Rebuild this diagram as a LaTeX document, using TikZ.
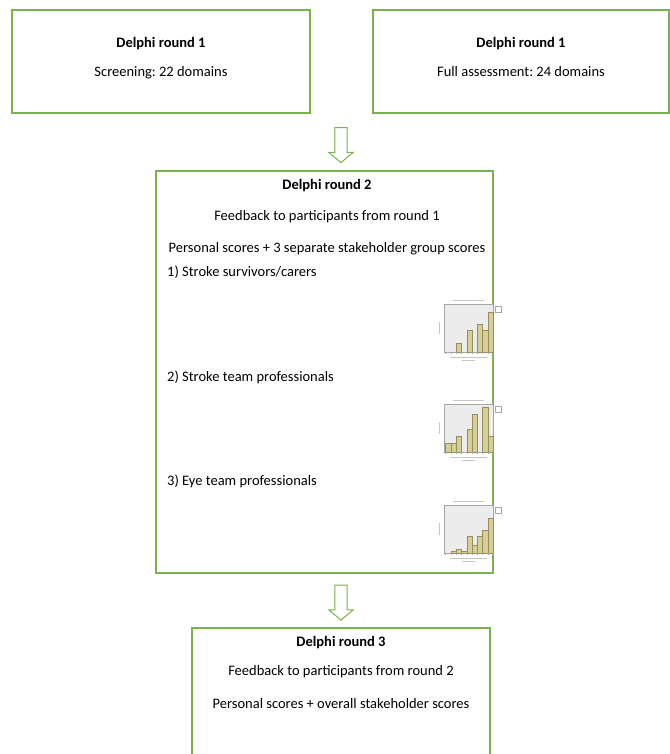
\documentclass[tikz,border=0pt]{standalone}
\usepackage{fontspec}
\setmainfont{Carlito}
\frenchspacing
\usepackage{tikz}
\usetikzlibrary{positioning,shapes.arrows}
\usepackage{xcolor}
\definecolor{boxgreen}{RGB}{122,178,80}
\definecolor{barkhaki}{RGB}{214,208,152}
\definecolor{baredge}{RGB}{150,142,92}
\definecolor{plotgray}{RGB}{236,236,236}
\tikzset{
  roundbox/.style={rectangle, draw=boxgreen, line width=1.3pt, fill=white, inner sep=0pt},
  downarrow/.style={single arrow, draw=boxgreen, line width=1pt, fill=white, rotate=-90,
                    minimum height=35pt, inner sep=5.7pt, single arrow head extend=6pt,
                    single arrow tip angle=100},
  textline/.style={inner sep=0pt, text height=10.5pt, text depth=3.5pt, font=\fontsize{14.5}{17}\selectfont},
  titleline/.style={textline, font=\fontsize{14.5}{17}\selectfont\bfseries},
  chartline/.style={gray!70, line width=0.4pt},
  chartbar/.style={fill=barkhaki, draw=baredge, line width=0.4pt},
  charttext/.style={gray!45, line width=0.6pt},
}
% small bar chart: #1 = top of plot area, #2 = bin/height pairs
\newcommand{\minichart}[2]{%
  \fill[plotgray] (444,#1) rectangle (493,#1+48);
  \draw[chartline] (444,#1) rectangle (493,#1+48);
  \foreach \b/\h in {#2}
    \draw[chartbar] (445.5+\b*5.3,#1+48) rectangle ++(5.3,-\h*46);
  \foreach \b in {0,...,9}
    \draw[chartline] (445.5+\b*5.3,#1+48) -- ++(0,1.5);
  \draw[charttext] (453,#1-3.5) -- (484,#1-3.5);
  \draw[charttext] (450,#1+53) -- (487,#1+53);
  \draw[charttext] (462,#1+56) -- (475,#1+56);
  \draw[charttext] (439,#1+18) -- (439,#1+30);
  \draw[chartline] (495,#1+2) rectangle (501,#1+8);
}

\begin{document}
\begin{tikzpicture}[x=1pt, y=-1pt, node distance=15pt]
\useasboundingbox (0,0) rectangle (669,754);

% round 1
\node[roundbox, minimum width=298pt, minimum height=103pt] (screen) at (161,61.5) {};
\node[titleline] (screentitle) at (161,44) {Delphi round 1};
\node[textline, below=15pt of screentitle] (screentext) {Screening: 22 domains};

\node[roundbox, minimum width=296pt, minimum height=103pt] (full) at (521,61.5) {};
\node[titleline] (fulltitle) at (521,44) {Delphi round 1};
\node[textline, below=15pt of fulltitle] (fulltext) {Full assessment: 24 domains};

\node[downarrow] (arrowone) at (341,142.5) {};

% round 2
\node[roundbox, minimum width=337pt, minimum height=402pt] (second) at (324.5,372) {};
\node[titleline] (secondtitle) at (327,186) {Delphi round 2};
\node[textline, below=17pt of secondtitle] (feedbackone) {Feedback to participants from round 1};
\node[textline, below=17pt of feedbackone] (groupscores) {Personal scores + 3 separate stakeholder group scores};
\node[textline, anchor=west] (survivors) at (167,273) {1) Stroke survivors/carers};
\node[textline, anchor=west] (strateam) at (167,378) {2) Stroke team professionals};
\node[textline, anchor=west] (eyeteam) at (167,482) {3) Eye team professionals};

\minichart{304}{2/0.2, 4/0.48, 6/0.6, 7/0.48, 8/0.86}
\minichart{404}{0/0.19, 1/0.19, 2/0.35, 4/0.5, 5/0.82, 7/0.98, 8/0.35}
\minichart{505}{1/0.03, 2/0.08, 3/0.05, 4/0.36, 5/0.18, 6/0.36, 7/0.5, 8/0.75}

\node[downarrow] (arrowtwo) at (341,600) {};

% round 3
\node[roundbox, minimum width=298pt, minimum height=150pt] (third) at (341,703) {};
\node[titleline] (thirdtitle) at (341,643) {Delphi round 3};
\node[textline, below=15pt of thirdtitle] (feedbacktwo) {Feedback to participants from round 2};
\node[textline, below=18pt of feedbacktwo] (overall) {Personal scores + overall stakeholder scores};
\end{tikzpicture}
\end{document}
